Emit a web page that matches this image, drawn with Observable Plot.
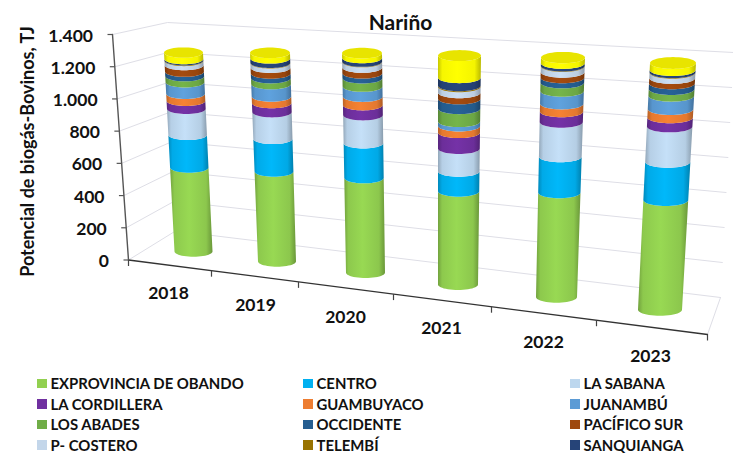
<!DOCTYPE html>
<html lang="es">
<head>
<meta charset="utf-8">
<script src="https://cdn.jsdelivr.net/npm/d3@7"></script>
<script src="https://cdn.jsdelivr.net/npm/@observablehq/plot@0.6"></script>
<style>
  html, body { margin: 0; padding: 0; background: #fff; }
  #chart { width: 733px; height: 454px; position: relative; overflow: hidden; font-family: Lato, sans-serif; }
  #chart svg { display: block; }
  #legend { position: absolute; left: 37px; top: 373px; width: 696px; display: grid;
    grid-template-columns: 266px 267px 160px; grid-auto-rows: 20.6px;
    font: bold 14.9px Lato, sans-serif; color: #111; }
  .item { display: flex; align-items: center; white-space: nowrap; }
  .sw { width: 9.5px; height: 9.5px; margin-right: 4px; flex: none; }
</style>
</head>
<body>
<div id="chart"></div>
<script>
// ---------- Data (TJ) ----------
const years = ["2018", "2019", "2020", "2021", "2022", "2023"];
const seriesNames = ["EXPROVINCIA DE OBANDO", "CENTRO", "LA SABANA", "LA CORDILLERA", "GUAMBUYACO", "JUANAMBÚ",
  "LOS ABADES", "OCCIDENTE", "PACÍFICO SUR", "P- COSTERO", "TELEMBÍ", "SANQUIANGA", "(sin leyenda)"];
const seriesColors = ["#92d050", "#00b0f0", "#bdd7ee", "#7030a0", "#ed7d31", "#5b9bd5",
  "#70ad47", "#255e91", "#9e480e", "#c3d6ea", "#997300", "#264478", "#ffff00"];
const obando     = [525, 545, 557, 533, 580, 593];
const centro     = [204, 198, 205, 114, 200, 207];
const laSabana   = [163, 162, 165, 130, 192, 191];
const cordillera = [ 50,  55,  59,  91,  58,  49];
const guambuyaco = [ 44,  40,  50,  38,  44,  45];
const juanambu   = [ 72,  75,  59,  25,  70,  72];
const abades     = [ 38,  36,  49,  74,  47,  36];
const occidente  = [ 28,  28,  29,  56,  28,  31];
const pacifico   = [ 41,  35,  34,  35,  31,  29];
const costero    = [ 26,  27,  32,  34,  32,  28];
const telembi    = [  4,   3,   3,   6,   3,   3];
const sanquianga = [  8,  27,  21,  46,  14,  12];
const otros      = [ 40,  33,  28, 126,  31,  38];
const seriesValues = [obando, centro, laSabana, cordillera, guambuyaco, juanambu, abades,
  occidente, pacifico, costero, telembi, sanquianga, otros];
const yTicks = [0, 200, 400, 600, 800, 1000, 1200, 1400];
const title = "Nariño";
const yTitle = "Potencial de biogás-Bovinos, TJ";

// ---------- 3D view: how each year's column is placed in the picture ----------
const W = 733, H = 372;
const view = {
  frontY:  [256.7, 266.7, 278, 290, 302.7, 315.7],
  scale:   [.160, .165, .170, .175, .180, .185],
  baseX:   [193.5, 277, 365.5, 458, 556.5, 660],
  topX:    [183.5, 270, 362, 459.5, 563, 673],
  baseRx:  [19, 19, 19.5, 20, 20.5, 22],
  topRx:   [19.5, 20, 20, 21.5, 22, 23],
  ry:      [5.2, 5.3, 5.4, 5.5, 5.7, 5.9],
  xTickX:  [128, 211, 298, 393, 491, 596, 707],
  labelX:  [168, 255, 345, 441, 543, 650],
  labelY:  [293, 305, 317, 328, 342, 356]
};
const yMax = 1400;
const frontLeft = v => [128 - 16 * v / yMax, 259.5 - 225.5 * v / yMax];
const backLeft  = v => [175 - 8 * v / yMax, 230.5 - 208.5 * v / yMax];
const backRight = v => [720 + 13 * v / yMax, 297 - 245 * v / yMax];
const floorSlope = (334 - 259.5) / (707 - 128);
const floorY = x => 259.5 + (x - 128) * floorSlope;

// Picture position to chart units: x in year steps, y in TJ
const X = px => (px - view.baseX[0]) / 93;
const Y = py => (259.5 - py) / 0.161;
const totals = years.map((_, i) => d3.sum(seriesValues, s => s[i]));
const rim = (i, v, a) => {
  const t = v / totals[i];
  const cx = view.baseX[i] + (view.topX[i] - view.baseX[i]) * t;
  const rx = view.baseRx[i] + (view.topRx[i] - view.baseRx[i]) * t;
  const ry = view.ry[i];
  return [X(cx + rx * Math.cos(a)), Y(view.frontY[i] - view.scale[i] * v - ry + ry * Math.sin(a))];
};
const angles = d3.range(0, 25).map(n => Math.PI * n / 24);

// ---------- Rows for the marks ----------
const sideRows = years.flatMap((year, i) => {
  let base = 0;
  return seriesValues.flatMap((s, j) => {
    const v0 = base, v1 = base + s[i];
    base = v1;
    return angles.map(a => {
      const [x1, y1] = rim(i, v0, a), [x2, y2] = rim(i, v1, a);
      return {key: year + "-" + j, paint: `url(#cyl${j})`, x1, y1, x2, y2};
    });
  });
});
const capRows = years.flatMap((year, i) => angles.map(a => {
  const [x1, y1] = rim(i, totals[i], a), [x2, y2] = rim(i, totals[i], -a);
  return {key: year, x1, y1, x2, y2};
}));
const pt = ([px, py], extra) => ({x: X(px), y: Y(py), ...extra});
const gridRows = yTicks.flatMap(v => [frontLeft(v), backLeft(v), backRight(v)].map(p => pt(p, {key: v})));
const wallRows = [pt(backRight(0), {key: "w"}), pt([707, 334], {key: "w"})];
const axisYRows = [frontLeft(0), frontLeft(yMax)].map(p => pt(p));
const floorRows = [[128, 259.5], [707, 334]].map(p => pt(p));
const yTickRows = yTicks.map(v => {
  const [px, py] = frontLeft(v);
  return {x1: X(px - 5), x2: X(px), y1: Y(py), y2: Y(py)};
});
const xTickRows = view.xTickX.map(px => ({x1: X(px), x2: X(px), y1: Y(floorY(px)), y2: Y(floorY(px) + 6)}));
const dotted = d3.formatLocale({decimal: ",", thousands: ".", grouping: [3], currency: ["", ""]}).format(",");
const yLabelRows = yTicks.map(v => {
  const [px, py] = frontLeft(v);
  return {x: X(px - 19.5), y: Y(py + 1.5), label: dotted(v)};
});
const xLabelRows = years.map((label, i) => ({x: X(view.labelX[i]), y: Y(view.labelY[i]), label}));

// ---------- Cylinder shading ----------
const gradients = () => {
  const defs = d3.create("svg:defs");
  seriesColors.forEach((c, j) => {
    const g = defs.append("linearGradient").attr("id", `cyl${j}`)
      .attr("x1", 0).attr("x2", 1).attr("y1", 0).attr("y2", 0);
    [[0, d3.color(c).darker(.7)], [.1, d3.color(c).darker(.1)], [.45, d3.color(c).brighter(.12)],
     [.85, d3.color(c).darker(.12)], [1, d3.color(c).darker(.9)]]
      .forEach(([o, col]) => g.append("stop").attr("offset", o).attr("stop-color", col.formatHex()));
  });
  return defs.node();
};

const textStyle = {fontFamily: "Lato, sans-serif", fontWeight: "bold", fill: "#111"};
const plot = Plot.plot({
  width: W, height: H, margin: 0,
  x: {domain: [X(0), X(W)], range: [0, W], axis: null},
  y: {domain: [Y(H), Y(0)], range: [H, 0], axis: null},
  color: {type: "identity"},
  style: {background: "#fff", overflow: "hidden"},
  marks: [
    gradients,
    Plot.line(gridRows, {x: "x", y: "y", z: "key", stroke: "#dedee6", strokeWidth: 1}),
    Plot.line(wallRows, {x: "x", y: "y", z: "key", stroke: "#dedee6", strokeWidth: 1}),
    Plot.line(floorRows, {x: "x", y: "y", stroke: "#333", strokeWidth: 1.3}),
    Plot.line(axisYRows, {x: "x", y: "y", stroke: "#555", strokeWidth: 1.4}),
    Plot.link(yTickRows, {x1: "x1", x2: "x2", y1: "y1", y2: "y2", stroke: "#555", strokeWidth: 1.2}),
    Plot.link(xTickRows, {x1: "x1", x2: "x2", y1: "y1", y2: "y2", stroke: "#444", strokeWidth: 1.2}),
    Plot.area(sideRows, {x1: "x1", y1: "y1", x2: "x2", y2: "y2", z: "key", fill: "paint"}),
    Plot.area(capRows, {x1: "x1", y1: "y1", x2: "x2", y2: "y2", z: "key", fill: "#e8e400"}),
    Plot.text(yLabelRows, {x: "x", y: "y", text: "label", textAnchor: "end", fontSize: 17.5, ...textStyle}),
    Plot.text(xLabelRows, {x: "x", y: "y", text: "label", fontSize: 17.5, ...textStyle}),
    Plot.text([title], {x: X(400), y: Y(23), text: d => d, fontSize: 21, ...textStyle}),
    Plot.text([yTitle], {x: X(28), y: Y(151), text: d => d, rotate: -90, fontSize: 18, ...textStyle})
  ]
});
const root = document.getElementById("chart");
root.appendChild(plot);

// ---------- Legend (the yellow series has no entry in the reference) ----------
const legend = d3.select(root).append("div").attr("id", "legend");
seriesNames.slice(0, 12).forEach((name, j) => {
  const item = legend.append("div").attr("class", "item");
  item.append("span").attr("class", "sw").style("background", seriesColors[j]);
  item.append("span").text(name);
});
</script>
</body>
</html>
